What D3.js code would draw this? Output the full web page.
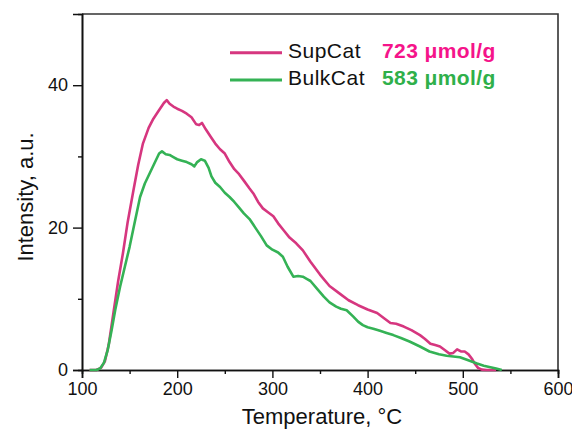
<!DOCTYPE html>
<html><head><meta charset="utf-8">
<script src="https://cdn.jsdelivr.net/npm/d3@7"></script>
<style>
html,body{margin:0;padding:0;background:#fff;}
svg{display:block;font-family:"Liberation Sans",Arial,sans-serif;}
</style></head>
<body><svg id="c" width="572" height="429"></svg>
<script>
// ---- data ----
const supT = [108,115,120,124,128,133,138,143,148,154,159,164,170,175,180,186,189,192,196,200,205,210,215,220,223,226,230,235,240,245,250,255,260,265,270,276,280,285,290,295,301,306,312,318,325,332,340,350,360,370,380,390,400,410,418,424,430,438,446,455,460,466,471,476,481,486,490,494,498,502,506,510,513,516,520,525,530,535];
const supI = [0,0,0.3,1.2,3.5,8,12.5,16.4,20.8,25.2,28.8,31.8,34,35.3,36.3,37.5,37.9,37.4,37.0,36.7,36.4,36.0,35.5,34.5,34.4,34.7,33.8,32.8,31.8,31.0,30.4,29.2,28.2,27.5,26.6,25.5,24.8,23.6,22.7,22.2,21.6,20.6,19.6,18.6,17.8,16.8,15.2,13.4,11.8,10.8,9.8,9.1,8.5,8.0,7.2,6.6,6.5,6.1,5.6,4.9,4.4,3.7,3.5,3.3,2.8,2.3,2.4,2.9,2.6,2.6,2.2,1.5,0.8,0.3,0.05,0,0,0];
const bulkT = [108,115,119,123,127,131,135,140,145,150,155,161,166,171,176,181,184,188,192,196,200,205,210,215,218,221,225,229,233,236,240,245,250,255,260,265,270,276,282,288,294,300,306,311,316,322,327,332,336,340,347,354,360,367,372,378,385,390,395,400,406,413,420,427,435,444,455,465,475,483,490,497,505,515,522,529,535,541];
const bulkI = [0,0,0.2,1.0,2.8,5.5,8.5,11.7,14.5,17.3,20.5,24.3,26.2,27.6,29.0,30.4,30.7,30.3,30.2,29.9,29.6,29.4,29.2,28.9,28.6,29.2,29.6,29.4,28.4,27.2,26.3,25.7,24.9,24.3,23.6,22.8,22.0,21.2,20.0,18.8,17.5,16.9,16.5,15.9,14.5,13.1,13.2,13.1,12.8,12.5,11.4,10.3,9.5,8.9,8.6,8.4,7.5,6.8,6.3,6.0,5.8,5.5,5.2,4.9,4.5,4.0,3.3,2.6,2.2,2.0,1.9,1.8,1.4,0.9,0.6,0.4,0.2,0];
const seriesNames = ["SupCat","BulkCat"];
const seriesAmounts = ["723 μmol/g","583 μmol/g"];
const xMajorTicks = [100,200,300,400,500,600];
const xMinorTicks = [150,250,350,450,550];
const yMajorTicks = [0,20,40];
const yMinorTicks = [10,30];

const lineColors = ["#d6367f","#34b255"];
const textColors = ["#f5148a","#2fb04a"];

const svg = d3.select("#c");
const L=82, R=558, T=14, B=370;
const x = d3.scaleLinear().domain([100,600]).range([L,R]);
const y = d3.scaleLinear().domain([0,50]).range([B,T]);

// frame top/right
svg.append("path").attr("d",`M${L},${T}H${R}V${B}`).attr("fill","none").attr("stroke","#333").attr("stroke-width",1.6);

// x axis
const gx = svg.append("g").attr("transform",`translate(0,${B})`);
gx.call(d3.axisBottom(x).tickValues(xMajorTicks).tickSize(8).tickPadding(4).tickFormat(d3.format("d")));
gx.append("g").call(d3.axisBottom(x).tickValues(xMinorTicks).tickSize(4).tickFormat(""));
// y axis
const gy = svg.append("g").attr("transform",`translate(${L},0)`);
gy.call(d3.axisLeft(y).tickValues(yMajorTicks).tickSize(9).tickPadding(5).tickFormat(d3.format("d")));
gy.append("g").call(d3.axisLeft(y).tickValues(yMinorTicks).tickSize(4).tickFormat(""));
svg.selectAll(".domain").attr("stroke","#111").attr("stroke-width",1.6);
svg.selectAll(".tick line").attr("stroke","#111").attr("stroke-width",1.4);
svg.selectAll(".tick text").attr("font-size","18px").attr("fill","#111").attr("font-family","'Liberation Sans',Arial,sans-serif");

// lines
const line = d3.line().x(d=>x(d[0])).y(d=>y(d[1]));
const sData = [d3.zip(supT,supI), d3.zip(bulkT,bulkI)];
sData.forEach((s,i)=>{
  svg.append("path").datum(s).attr("d",line).attr("fill","none")
    .attr("stroke",lineColors[i]).attr("stroke-width",2.6).attr("stroke-linejoin","round");
});

// legend
const legY = [52.7, 80];
seriesNames.forEach((n,i)=>{
  svg.append("line").attr("x1",230).attr("x2",282).attr("y1",legY[i]).attr("y2",legY[i])
    .attr("stroke",lineColors[i]).attr("stroke-width",3);
  svg.append("text").attr("x",288).attr("y",legY[i]+5).attr("font-size","21px").attr("letter-spacing","0.5px")
    .attr("fill","#111").text(n);
  svg.append("text").attr("x",382).attr("y",legY[i]+5).attr("font-size","21px").attr("font-weight","bold")
    .attr("letter-spacing","0.4px").attr("fill",textColors[i]).text(seriesAmounts[i]);
});

// axis titles
svg.append("text").attr("x",(L+R)/2+2).attr("y",424).attr("text-anchor","middle")
  .attr("font-size","22px").attr("fill","#111").text("Temperature, °C");
svg.append("text").attr("transform",`translate(33,197) rotate(-90)`).attr("text-anchor","middle")
  .attr("font-size","22px").attr("fill","#111").text("Intensity, a.u.");
</script></body></html>
